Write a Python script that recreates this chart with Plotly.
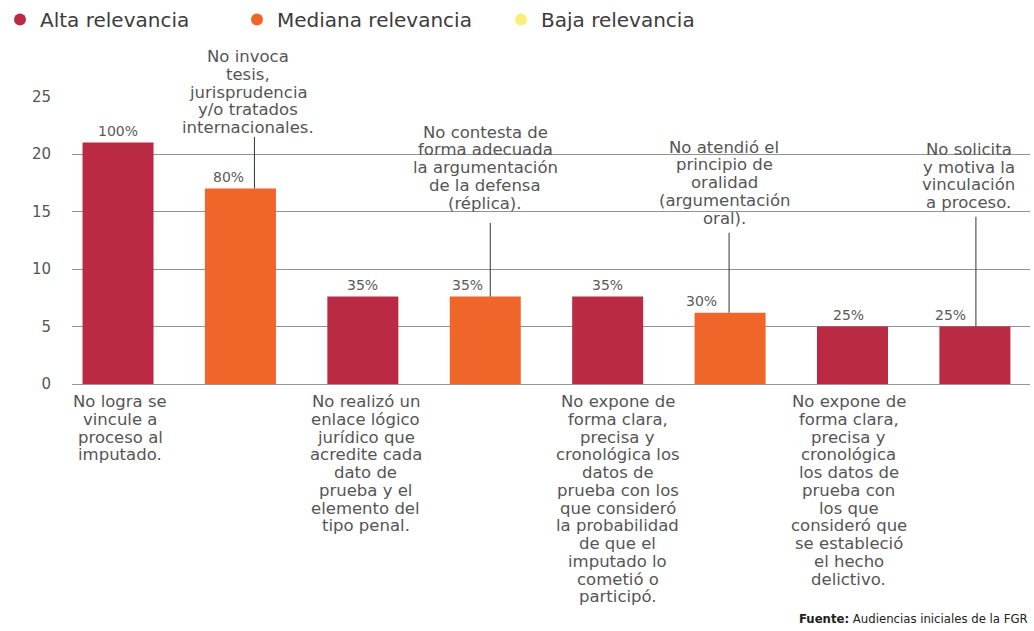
import plotly.graph_objects as go

# ---------------- data ----------------
categories = ["C1", "C2", "C3", "C4", "C5", "C6", "C7", "C8"]
values = [21, 17, 7.6, 7.6, 7.6, 6.2, 5, 5]
pct_labels = ["100%", "80%", "35%", "35%", "35%", "30%", "25%", "25%"]
relevance = ["Alta relevancia", "Mediana relevancia", "Alta relevancia", "Mediana relevancia",
             "Alta relevancia", "Mediana relevancia", "Alta relevancia", "Alta relevancia"]
series_names = ["Alta relevancia", "Mediana relevancia", "Baja relevancia"]
label_lines = [
    ["No logra se", "vincule a", "proceso al", "imputado."],
    ["No invoca", "tesis,", "jurisprudencia", "y/o tratados", "internacionales."],
    ["No realizó un", "enlace lógico", "jurídico que", "acredite cada", "dato de",
     "prueba y el", "elemento del", "tipo penal."],
    ["No contesta de", "forma adecuada", "la argumentación", "de la defensa", "(réplica)."],
    ["No expone de", "forma clara,", "precisa y", "cronológica los", "datos de",
     "prueba con los", "que consideró", "la probabilidad", "de que el", "imputado lo",
     "cometió o", "participó."],
    ["No atendió el", "principio de", "oralidad", "(argumentación", "oral)."],
    ["No expone de", "forma clara,", "precisa y", "cronológica", "los datos de",
     "prueba con", "los que", "consideró que", "se estableció", "el hecho", "delictivo."],
    ["No solicita", "y motiva la", "vinculación", "a proceso."],
]
y_ticks = [0, 5, 10, 15, 20, 25]
source_text = "<b>Fuente:</b> Audiencias iniciales de la FGR"

# ---------------- styles ----------------
colors = {"Alta relevancia": "#BA2A43", "Mediana relevancia": "#F0662A", "Baja relevancia": "#F7EF78"}
FONT = "DejaVu Sans"
TXT = "#555555"
W, H = 1034, 631
M_L, M_R, M_T, M_B = 72, 4, 96, 247
X_RANGE = [-0.376, 7.45]
Y_MAX = 25.05
PLOT_BOTTOM = H - M_B
PLOT_H = H - M_T - M_B
PPU = PLOT_H / Y_MAX
PX_PER_CAT = (W - M_L - M_R) / (X_RANGE[1] - X_RANGE[0])
LINE_H = 17.75


def px_to_y(py):
    return (PLOT_BOTTOM - py) / PPU


def px_to_paper(py):
    return (PLOT_BOTTOM - py) / PLOT_H


fig = go.Figure()

# bars, one trace per relevance level
for name in series_names:
    xs = [c for c, r in zip(categories, relevance) if r == name]
    ys = [v for v, r in zip(values, relevance) if r == name]
    if xs:
        fig.add_trace(go.Bar(x=xs, y=ys, marker=dict(color=colors[name], line=dict(width=0)),
                             width=0.58, showlegend=False, hoverinfo="skip"))

# legend entries (circles), each in its own legend for exact placement
legend_ids = ["legend", "legend2", "legend3"]
for name, lid in zip(series_names, legend_ids):
    fig.add_trace(go.Scatter(x=[None], y=[None], mode="markers", name=name,
                             marker=dict(color=colors[name], size=15, symbol="circle"),
                             legend=lid, showlegend=True))

annotations = []
shapes = []
# (last line centre px, leader top px, leader x shift px)
above = {1: (127.7, 137, 14), 3: (203, 223, 5), 5: (218, 232.7, -1), 7: (202.7, 216.7, 1)}
pct_shift = {1: -12, 3: -18, 5: -29, 7: -24, 6: -4}
text_shift = {0: 2, 1: 8, 2: 3, 3: 0, 4: 10, 5: -6, 6: -4, 7: -6}
line_font = dict(family=FONT, size=16.5, color=TXT)

for i, (v, p, lines) in enumerate(zip(values, pct_labels, label_lines)):
    annotations.append(dict(x=i, y=v, text=p, showarrow=False, yanchor="bottom", yshift=2,
                            xshift=pct_shift.get(i, 0),
                            font=dict(family=FONT, size=14, color="#5a5a5a")))
    if i in above:
        last_center, line_top, lx = above[i]
        n = len(lines)
        for k, t in enumerate(lines):
            py = last_center - (n - 1 - k) * LINE_H
            annotations.append(dict(x=i, yref="paper", y=px_to_paper(py), text=t, showarrow=False,
                                    xanchor="center", yanchor="middle", xshift=text_shift[i],
                                    font=line_font))
        xl = i + lx / PX_PER_CAT
        shapes.append(dict(type="line", xref="x", yref="y", x0=xl, x1=xl,
                           y0=v, y1=px_to_y(line_top), line=dict(color="#333333", width=1)))
    else:
        for k, t in enumerate(lines):
            py = 401.7 + k * LINE_H
            annotations.append(dict(x=i, yref="paper", y=px_to_paper(py), text=t, showarrow=False,
                                    xanchor="center", yanchor="middle", xshift=text_shift[i],
                                    font=line_font))

annotations.append(dict(xref="paper", yref="paper", x=1.0, y=px_to_paper(618),
                        xanchor="right", yanchor="middle",
                        text=source_text, showarrow=False,
                        font=dict(family="Liberation Sans Narrow, DejaVu Sans Condensed", size=13,
                                  color="#222222")))

legend_common = dict(orientation="h", xref="container", yref="container", xanchor="left",
                     yanchor="top", y=1.0, bgcolor="rgba(0,0,0,0)", borderwidth=0,
                     font=dict(family=FONT, size=20, color="#3c3c3c"), itemsizing="constant")

fig.update_layout(
    width=W, height=H,
    margin=dict(l=M_L, r=M_R, t=M_T, b=M_B),
    paper_bgcolor="white", plot_bgcolor="white",
    barmode="overlay",
    font=dict(family=FONT, color=TXT),
    xaxis=dict(categoryorder="array", categoryarray=categories, range=X_RANGE,
               showticklabels=False, showgrid=False, zeroline=False,
               showline=True, linecolor="#999999", linewidth=1, ticks=""),
    yaxis=dict(range=[0, Y_MAX], tickvals=y_ticks, showgrid=True, gridcolor="#939393",
               gridwidth=1, zeroline=False, showline=False, ticks="",
               tickfont=dict(family=FONT, size=15, color="#555555"), ticklabelstandoff=20),
    legend=dict(legend_common, x=-2 / W),
    legend2=dict(legend_common, x=237 / W),
    legend3=dict(legend_common, x=501 / W),
    annotations=annotations,
    shapes=shapes,
)

fig.write_html("out.html", config={"displayModeBar": False},
               post_script="document.body.style.margin='0';")
